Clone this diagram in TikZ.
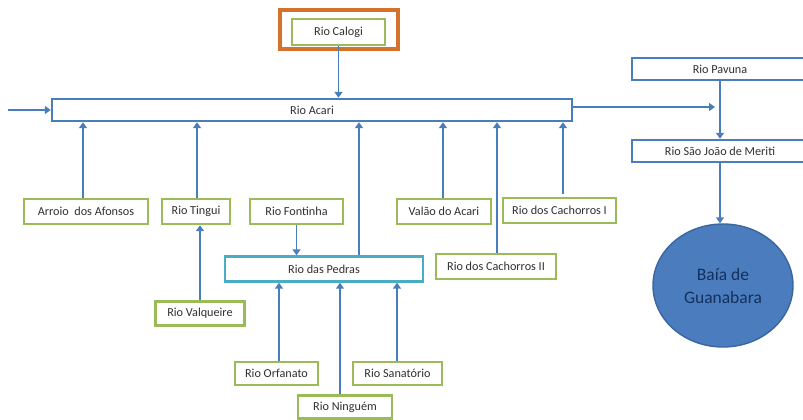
\documentclass[tikz,border=0pt]{standalone}
\usepackage{fontspec}
\setmainfont{Carlito}
\usetikzlibrary{arrows.meta,shapes.geometric}

\definecolor{flow}{HTML}{4A7EBB}
\definecolor{boxgreen}{HTML}{9BBB59}
\definecolor{boxteal}{HTML}{4BACC6}
\definecolor{frameorange}{HTML}{D4712A}
\definecolor{txt}{HTML}{303030}
\definecolor{bayfill}{HTML}{4A7CBE}
\definecolor{bayline}{HTML}{3A66A0}
\definecolor{baytext}{HTML}{15305C}

\tikzset{
  box/.style={line width=2.4pt, fill=white, inner sep=0pt, text=txt,
    font=\fontsize{12.2}{14}\selectfont},
  greenbox/.style={box, draw=boxgreen},
  bluebox/.style={box, draw=flow},
  tealbox/.style={box, draw=boxteal},
  flowarrow/.style={draw=flow, line width=1.8pt,
    -{Triangle[length=6pt,width=8pt]}},
}

\begin{document}
\begin{tikzpicture}[x=1pt,y=-1pt]
\useasboundingbox[fill=white] (0,0) rectangle (803,420);

% highlight frame around Rio Calogi
\node[draw=frameorange, line width=4.2pt, minimum width=118pt, minimum height=39pt,
      inner sep=0pt] (frame) at (339,29.5) {};

% main channels
\node[greenbox, minimum width=93pt, minimum height=26pt] (calogi) at (338.5,32) {Rio Calogi};
\node[bluebox, minimum width=520pt, minimum height=22pt] (acari) at (312,110) {Rio Acari};
\node[bluebox, minimum width=176pt, minimum height=22pt] (pavuna) at (720,69) {Rio Pavuna};
\node[bluebox, minimum width=176pt, minimum height=22pt] (sjm) at (720,151) {Rio São João de Meriti};
\node[ellipse, draw=bayline, line width=1.4pt, fill=bayfill, inner sep=0pt,
      minimum width=140pt, minimum height=123pt, text=baytext, align=center,
      font=\fontsize{17.5}{23}\selectfont] (baia) at (723,285.5) {Baía de\\Guanabara};

% tributaries of Rio Acari
\node[greenbox, minimum width=124pt, minimum height=25pt] (afonsos) at (86,211.5) {Arroio\ \ dos Afonsos};
\node[greenbox, minimum width=68pt, minimum height=25pt] (tingui) at (196,211.5) {Rio Tingui};
\node[greenbox, minimum width=93pt, minimum height=25pt] (fontinha) at (296.5,211.5) {Rio Fontinha};
\node[greenbox, minimum width=94pt, minimum height=25pt] (valao) at (444,211.5) {Valão do Acari};
\node[greenbox, minimum width=113pt, minimum height=25pt] (cach1) at (559.5,210.5) {Rio dos Cachorros I};
\node[greenbox, minimum width=120pt, minimum height=25pt] (cach2) at (496,266.5) {Rio dos Cachorros II};
\node[tealbox, minimum width=198pt, minimum height=25pt] (pedras) at (324,269) {Rio das Pedras};
\node[greenbox, minimum width=89pt, minimum height=24pt] (valqueire) at (200,313.5) {Rio Valqueire};

% tributaries of Rio das Pedras
\node[greenbox, minimum width=83pt, minimum height=23pt] (orfanato) at (276.5,373.5) {Rio Orfanato};
\node[greenbox, minimum width=89pt, minimum height=23pt] (sanatorio) at (397.5,373.5) {Rio Sanatório};
\node[greenbox, minimum width=94pt, minimum height=23pt] (ninguem) at (345,407) {Rio Ninguém};

% loose ends of the flow lines
\coordinate (inflow) at (8,110);
\coordinate (junction) at (715,107);

% flows into and out of Rio Acari
\draw[flowarrow] (calogi.south) -- (calogi.south |- acari.north);
\draw[flowarrow] (inflow) -- (acari.west);
\draw[flowarrow] ([yshift=3pt]acari.east) -- (junction);
\draw[flowarrow] (pavuna.south) -- (sjm.north);
\draw[flowarrow] (sjm.south) -- (sjm.south |- baia.north);

\draw[flowarrow] ([xshift=-3pt]afonsos.north) -- ([xshift=-3pt]afonsos.north |- acari.south);
\draw[flowarrow] ([xshift=1pt]tingui.north) -- ([xshift=1pt]tingui.north |- acari.south);
\draw[flowarrow] (valqueire.north) -- (valqueire.north |- tingui.south);
\draw[flowarrow] (fontinha.south) -- (fontinha.south |- pedras.north);
\draw[flowarrow] ([xshift=35pt]pedras.north) -- ([xshift=35pt]pedras.north |- acari.south);
\draw[flowarrow] ([xshift=-1pt]valao.north) -- ([xshift=-1pt]valao.north |- acari.south);
\draw[flowarrow] ([xshift=1pt]cach2.north) -- ([xshift=1pt]cach2.north |- acari.south);
\draw[flowarrow] ([xshift=3.5pt,yshift=3pt]cach1.north) -- ([xshift=3.5pt]cach1.north |- acari.south);

% flows into Rio das Pedras
\draw[flowarrow] ([xshift=2.5pt]orfanato.north) -- ([xshift=2.5pt]orfanato.north |- pedras.south);
\draw[flowarrow] ([xshift=-5pt]ninguem.north) -- ([xshift=-5pt]ninguem.north |- pedras.south);
\draw[flowarrow] ([xshift=-0.5pt]sanatorio.north) -- ([xshift=-0.5pt]sanatorio.north |- pedras.south);
\end{tikzpicture}
\end{document}
